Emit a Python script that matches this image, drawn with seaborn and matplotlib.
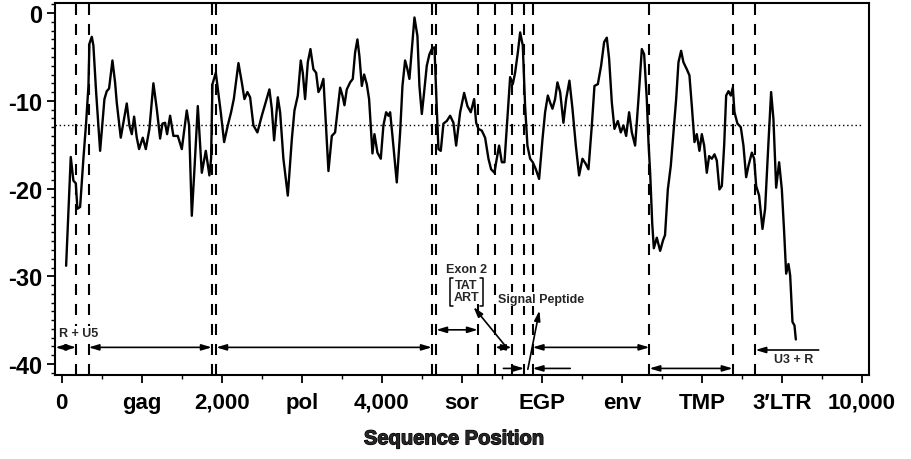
import matplotlib
matplotlib.use("Agg")
import matplotlib.pyplot as plt
import matplotlib.patheffects as pe
from matplotlib.ticker import MultipleLocator, FixedLocator
import seaborn as sns
import pandas as pd

# Profile along the genome
position = [54, 112, 145, 175, 195, 229, 270, 304, 333, 345, 375, 395, 429, 479, 533, 562, 591, 633,
            666, 687, 737, 770, 812, 845, 875, 904, 937, 966, 1012, 1050, 1095, 1145, 1187, 1229,
            1258, 1291, 1316, 1354, 1395, 1450, 1500, 1562, 1591, 1625, 1658, 1700, 1750, 1800,
            1845, 1866, 1883, 1925, 1958, 1987, 2029, 2075, 2116, 2150, 2208, 2250, 2283, 2320,
            2354, 2395, 2445, 2500, 2541, 2595, 2625, 2654, 2700, 2729, 2770, 2825, 2875, 2908,
            2950, 2987, 3012, 3041, 3075, 3108, 3145, 3179, 3208, 3237, 3270, 3300, 3333, 3375,
            3416, 3445, 3479, 3508, 3533, 3562, 3604, 3637, 3666, 3695, 3720, 3750, 3779, 3812,
            3841, 3883, 3908, 3945, 3987, 4020, 4054, 4083, 4104, 4133, 4187, 4229, 4258, 4291,
            4320, 4345, 4375, 4408, 4445, 4470, 4500, 4529, 4562, 4595, 4625, 4658, 4687, 4708,
            4737, 4770, 4812, 4854, 4895, 4929, 4979, 5029, 5070, 5112, 5154, 5179, 5208, 5250,
            5291, 5333, 5366, 5408, 5429, 5466, 5500, 5533, 5575, 5604, 5637, 5666, 5700, 5729,
            5762, 5791, 5820, 5854, 5887, 5925, 5966, 6008, 6041, 6075, 6104, 6133, 6166, 6195,
            6229, 6270, 6304, 6345, 6383, 6425, 6466, 6508, 6550, 6583, 6625, 6658, 6700, 6741,
            6779, 6812, 6841, 6875, 6908, 6950, 6987, 7020, 7054, 7091, 7125, 7166, 7208, 7250,
            7279, 7312, 7333, 7354, 7380, 7400, 7437, 7479, 7515, 7540, 7575, 7612, 7645, 7679,
            7708, 7741, 7770, 7812, 7845, 7875, 7908, 7937, 7970, 8000, 8029, 8062, 8091, 8125,
            8158, 8187, 8220, 8250, 8279, 8304, 8333, 8362, 8387, 8408, 8445, 8487, 8520, 8554,
            8583, 8625, 8654, 8679, 8716, 8758, 8791, 8833, 8866, 8895, 8929, 8966, 9000, 9029,
            9054, 9083, 9104, 9133, 9158, 9175]
score = [-28.8, -16.4, -19.1, -19.4, -22.3, -22.1, -16.6, -12.5, -8.3, -3.5, -2.7, -3.7, -9.0, -15.7,
         -9.8, -8.9, -8.6, -5.4, -7.9, -10.2, -14.2, -12.5, -10.3, -12.8, -13.8, -11.8, -14.2, -15.5,
         -14.2, -15.5, -13.2, -8.0, -10.9, -14.3, -12.6, -12.5, -13.8, -11.7, -14.0, -14.0, -15.5,
         -11.1, -12.8, -23.1, -17.8, -10.6, -18.2, -15.7, -18.5, -16.6, -8.1, -6.8, -9.2, -11.3,
         -14.7, -12.8, -11.3, -9.8, -5.7, -7.9, -9.8, -9.0, -9.6, -12.8, -13.6, -11.7, -10.4, -8.7,
         -10.9, -14.5, -9.6, -11.3, -16.6, -20.8, -14.4, -11.1, -9.4, -5.4, -6.8, -9.8, -5.6, -4.1,
         -6.4, -6.8, -9.0, -8.5, -7.5, -12.5, -18.0, -14.0, -13.6, -11.3, -8.5, -9.4, -10.5, -8.7,
         -7.9, -7.5, -4.5, -3.0, -4.9, -8.3, -7.0, -8.1, -9.8, -16.0, -13.8, -15.9, -16.6, -12.8,
         -11.3, -11.7, -11.3, -14.0, -19.3, -13.6, -8.3, -5.4, -6.4, -7.5, -4.1, -0.5, -2.6, -8.3,
         -11.5, -9.0, -6.0, -4.7, -4.1, -3.9, -10.9, -15.5, -15.7, -12.6, -12.3, -11.7, -12.5,
         -15.1, -11.3, -9.1, -10.6, -11.3, -9.8, -12.5, -13.2, -13.4, -14.2, -16.6, -17.8, -18.2,
         -17.0, -15.1, -17.0, -17.0, -11.3, -7.3, -8.1, -6.8, -4.5, -2.2, -3.7, -10.6, -15.1,
         -16.6, -17.0, -17.8, -18.9, -14.4, -11.3, -9.4, -10.2, -10.9, -9.8, -7.9, -9.0, -12.5,
         -9.8, -7.7, -10.9, -15.1, -18.5, -16.6, -17.2, -17.8, -12.8, -8.3, -8.1, -6.0, -3.3, -2.8,
         -5.2, -10.2, -13.2, -12.3, -13.6, -12.8, -14.0, -11.3, -13.6, -15.1, -9.8, -4.1, -4.7,
         -9.8, -14.7, -18.2, -24.0, -26.8, -25.6, -27.1, -25.9, -25.3, -20.1, -17.4, -13.6, -9.8,
         -5.6, -4.3, -5.6, -6.4, -7.1, -10.6, -14.7, -13.8, -15.7, -13.8, -15.1, -18.2, -16.3,
         -16.6, -16.1, -16.8, -20.1, -19.7, -15.1, -9.4, -8.9, -9.4, -8.5, -11.3, -12.6, -13.0,
         -15.1, -18.7, -17.4, -15.9, -16.6, -19.7, -20.8, -24.6, -22.3, -14.7, -9.0, -12.1, -19.9,
         -17.0, -20.1, -25.0, -29.7, -28.6, -29.9, -35.2, -35.6, -37.2]

# Genome region boundaries and threshold
boundaries = [180, 335, 1875, 1930, 4625, 4680, 5200, 5415, 5625, 5780, 5885, 7345, 8385, 8670]
threshold = -12.8

tick_positions = [0, 1000, 2000, 3000, 4000, 5000, 6000, 7000, 8000, 9000, 10000]
tick_labels = ["0", "gag", "2,000", "pol", "4,000", "sor", "EGP", "env", "TMP", "3\u2032LTR", "10,000"]
y_ticks = [0, -10, -20, -30, -40]

# Region spans drawn as double-headed arrows: (start, end, level)
spans = [(-80, 180, -38.1), (335, 1875, -38.1), (1930, 4625, -38.1), (5415, 5625, -38.1),
         (5885, 7345, -38.1), (4680, 5200, -36.1), (7345, 8385, -40.5)]
# Single-headed arrows pointing at a boundary: (tail, head, level)
pointers = [(5520, 5780, -40.5), (6355, 5885, -40.5), (9460, 8670, -38.4)]

sns.set_style("ticks")
plt.rcParams["font.family"] = ["Liberation Sans", "DejaVu Sans"]
plt.rcParams["font.weight"] = "bold"
plt.rcParams["axes.unicode_minus"] = False

fig = plt.figure(figsize=(9.12, 4.60), dpi=100)
ax = fig.add_axes([0.0603, 0.1826, 0.8926, 0.8087])

df = pd.DataFrame({"position": position, "score": score})
sns.lineplot(data=df, x="position", y="score", ax=ax, color="black", lw=1.7,
             estimator=None, sort=False, zorder=3)

for b in boundaries:
    ax.axvline(b, color="black", lw=1.5, linestyle=(0, (5.3, 4.3)), zorder=1)
ax.hlines(threshold, -85, 10000, color="black", lw=1.0, linestyle=(0, (1, 2)), zorder=1)

arrow_kw = dict(color="black", lw=1.2, shrinkA=0, shrinkB=0)
for x0, x1, yl in spans:
    ax.annotate("", xy=(x1, yl), xytext=(x0, yl),
                arrowprops=dict(arrowstyle="<|-|>,head_length=0.6,head_width=0.18", **arrow_kw))
for x0, x1, yl in pointers:
    ax.annotate("", xy=(x1, yl), xytext=(x0, yl),
                arrowprops=dict(arrowstyle="-|>,head_length=0.6,head_width=0.18", **arrow_kw))

box = dict(facecolor="white", edgecolor="none", pad=0.6)
small = dict(fontsize=9, fontweight="bold", ha="center", va="center", zorder=4, bbox=box)
ax.text(215, -36.5, "R + U5", **small)
ax.text(9145, -39.4, "U3 + R", **small)
ax.text(5062, -29.2, "Exon 2", **small)
ax.text(5058, -31.7, "TAT\nART", linespacing=1.05, **small)
ax.text(5989, -32.6, "Signal Peptide", **small)

# brackets around TAT / ART
for xb, dx in [(4850, 45), (5266, -45)]:
    ax.plot([xb + dx, xb, xb, xb + dx], [-30.2, -30.2, -33.4, -33.4], color="black", lw=1.1,
            zorder=5)

# leader arrows from the labels
ax.annotate("", xy=(5146, -33.5), xytext=(5541, -37.9),
            arrowprops=dict(arrowstyle="-|>,head_length=0.6,head_width=0.18", **arrow_kw))
ax.annotate("", xy=(5970, -33.9), xytext=(5825, -40.6),
            arrowprops=dict(arrowstyle="-|>,head_length=0.6,head_width=0.18", **arrow_kw))

ax.set_xlim(-85, 10090)
ax.set_ylim(-41.25, 1.15)
ax.xaxis.set_major_locator(FixedLocator(tick_positions))
ax.set_xticklabels(tick_labels)
ax.xaxis.set_minor_locator(MultipleLocator(500))
ax.yaxis.set_major_locator(FixedLocator(y_ticks))
ax.set_yticklabels([str(v) for v in y_ticks])
ax.yaxis.set_minor_locator(MultipleLocator(1))
ax.tick_params(which="major", direction="out", length=6, width=1.3, labelsize=16, colors="black")
ax.tick_params(which="minor", direction="out", length=3, width=1.0, colors="black")
ax.tick_params(axis="x", which="major", pad=6)
ax.tick_params(axis="y", which="major", labelsize=17, pad=3)
for lab in ax.get_xticklabels() + ax.get_yticklabels():
    lab.set_fontweight("bold")

for s in ax.spines.values():
    s.set_visible(True)
    s.set_linewidth(1.5)
    s.set_color("black")

ax.set_ylabel("")
ax.set_xlabel("Sequence Position", fontsize=14.5, fontweight="bold",
              path_effects=[pe.withStroke(linewidth=0.9, foreground="black")])
ax.xaxis.set_label_coords(0.49, -0.146)

fig.savefig("out.png", dpi=100)
